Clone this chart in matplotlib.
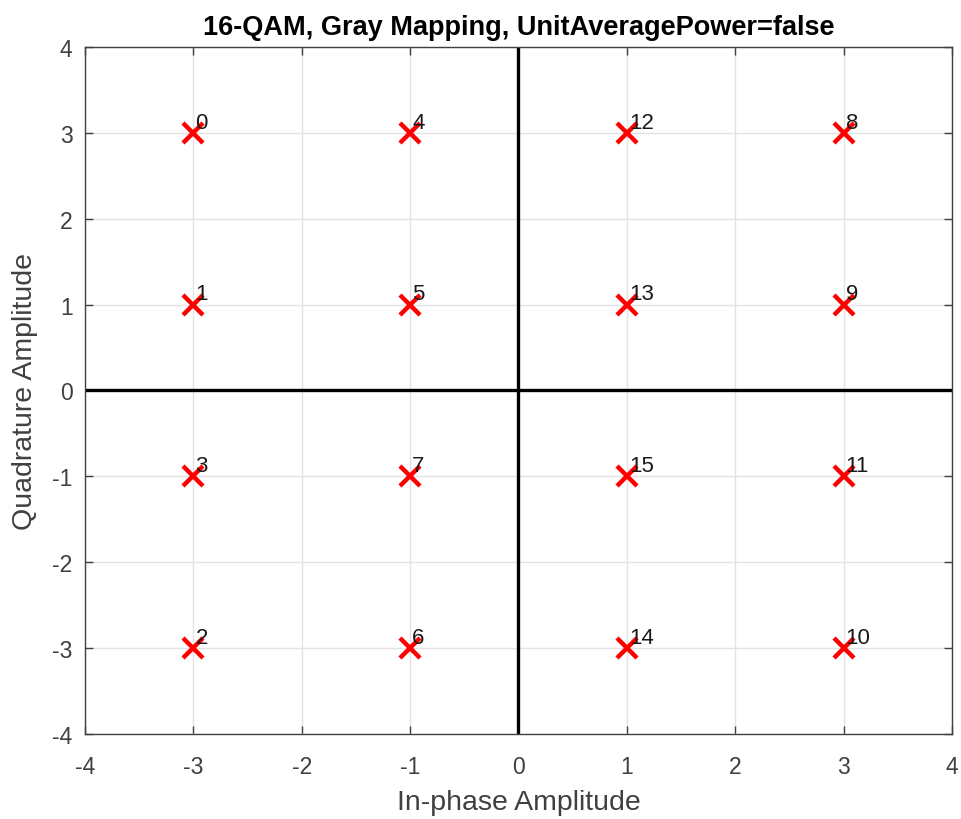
import matplotlib
matplotlib.use("Agg")
import matplotlib.pyplot as plt

# constellation points (in-phase, quadrature) and their symbol labels
in_phase = [-3, -3, -3, -3, -1, -1, -1, -1, 3, 3, 3, 3, 1, 1, 1, 1]
quadrature = [3, 1, -3, -1, 3, 1, -3, -1, 3, 1, -3, -1, 3, 1, -3, -1]
symbols = list(range(16))

ticks = [-4, -3, -2, -1, 0, 1, 2, 3, 4]

AXIS_GRAY = "#404040"

plt.rcParams["font.family"] = ["Liberation Sans", "DejaVu Sans"]
plt.rcParams["axes.unicode_minus"] = False

fig = plt.figure(figsize=(9.61, 8.2), dpi=100)
ax = fig.add_axes([0.0885, 0.1037, 0.902, 0.8378])

ax.grid(True, color="#e3e3e3", linewidth=1.0, zorder=0)
ax.axhline(0, color="black", linewidth=2.4, zorder=2)
ax.axvline(0, color="black", linewidth=2.4, zorder=2)

ax.plot(in_phase, quadrature, linestyle="none", marker="x", color="red",
        markersize=14, markeredgewidth=3.2, zorder=3)

for xi, yi, s in zip(in_phase, quadrature, symbols):
    ax.text(xi + 0.02, yi + 0.06, str(s), ha="left", va="baseline",
            fontsize=16, color="#1a1a1a", zorder=4)

ax.set_xlim(-4, 4)
ax.set_ylim(-4, 4)
ax.set_xticks(ticks)
ax.set_yticks(ticks)
ax.tick_params(direction="in", top=True, right=True, length=6, width=1,
               colors=AXIS_GRAY, labelsize=16.5)
ax.tick_params(axis="x", pad=15)
ax.tick_params(axis="y", pad=9)
for spine in ax.spines.values():
    spine.set_color(AXIS_GRAY)
    spine.set_linewidth(1.0)

ax.set_xlabel("In-phase Amplitude", fontsize=20.5, color=AXIS_GRAY, labelpad=8)
ax.set_ylabel("Quadrature Amplitude", fontsize=20.5, color=AXIS_GRAY, labelpad=10)
ax.set_title("16-QAM, Gray Mapping, UnitAveragePower=false", fontsize=19.5,
             fontweight="bold", color="black", pad=9)

fig.savefig("out.png")
